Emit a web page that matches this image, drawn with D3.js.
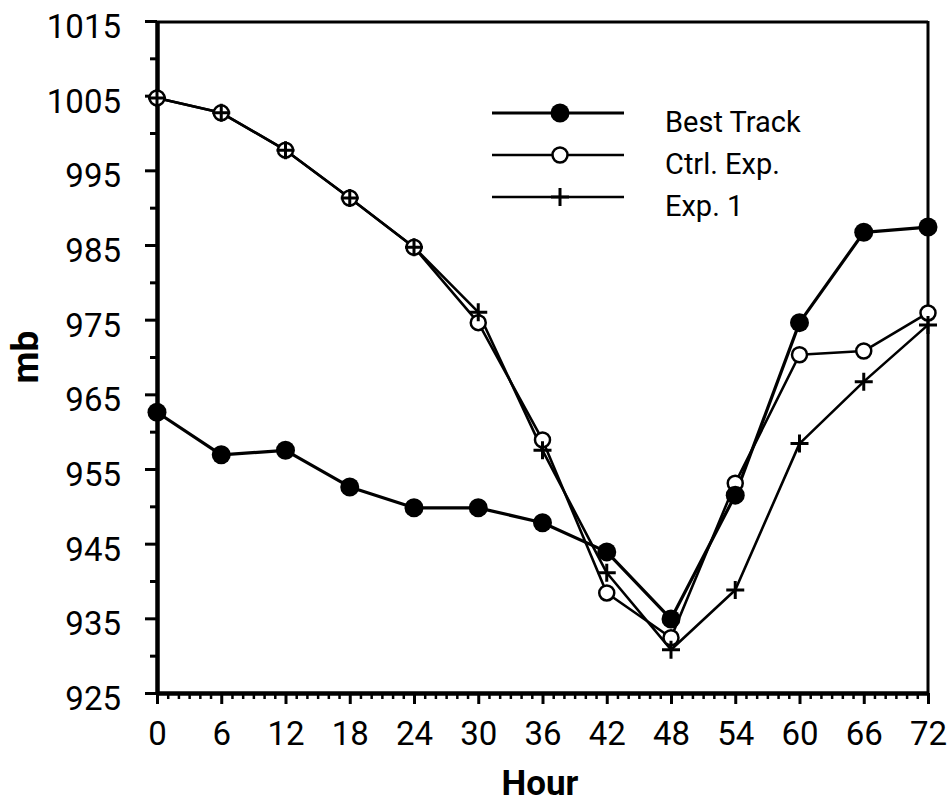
<!DOCTYPE html>
<html>
<head>
<meta charset="utf-8">
<script src="https://cdn.jsdelivr.net/npm/d3@7"></script>
<style>
	body {margin:0; background:#fff;}
	text {font-family: Roboto, "Open Sans", sans-serif; fill:#000;}
</style>
</head>
<body>
<svg id="chart" width="948" height="804"></svg>
<script>
/* Presión central (mb) cada 6 horas */
var hours = [0, 6, 12, 18, 24, 30, 36, 42, 48, 54, 60, 66, 72];
var bestTrack = [962.6, 956.9, 957.5, 952.6, 949.8, 949.8, 947.8, 943.9, 934.9, 951.5, 974.6, 986.7, 987.4];
var ctrlExp = [1004.7, 1002.7, 997.7, 991.3, 984.7, 974.6, 958.9, 938.4, 932.4, 953.1, 970.3, 970.8, 975.9];
var exp1 = [1004.7, 1002.7, 997.7, 991.3, 984.7, 976.0, 957.5, 941.1, 930.8, 938.8, 958.4, 966.7, 974.3];
var yTicks = [925, 935, 945, 955, 965, 975, 985, 995, 1005, 1015];
var legendLabels = ["Best Track", "Ctrl. Exp.", "Exp. 1"];

var svg = d3.select("#chart");
var x = d3.scaleLinear().domain([0, 72]).range([157, 928]);
var y = d3.scaleLinear().domain([925, 1015]).range([693, 21]);

var series = [
	{name: legendLabels[0], values: bestTrack, marker: "filled", width: 3.2},
	{name: legendLabels[1], values: ctrlExp, marker: "open", width: 2.6},
	{name: legendLabels[2], values: exp1, marker: "plus", width: 2.6}
];

// marco superior y derecho
svg.append("line").attr("x1", x(0)).attr("x2", x(72)).attr("y1", y(1015) + 1).attr("y2", y(1015) + 1)
	.attr("stroke", "#000").attr("stroke-width", 3);
svg.append("line").attr("x1", x(72)).attr("x2", x(72)).attr("y1", y(1015)).attr("y2", y(925))
	.attr("stroke", "#000").attr("stroke-width", 3);

// ejes
var minorY = d3.range(930, 1015, 10);
var minorX = d3.range(0, 73).filter(function(h) {return h % 6 != 0;});

svg.append("g").attr("transform", "translate(" + x(0) + ",0)")
	.call(d3.axisLeft(y).tickValues(minorY).tickSize(7).tickSizeOuter(0).tickFormat(""))
	.call(function(g) {g.select(".domain").remove();})
	.selectAll("line").attr("stroke-width", 3);
var yAxis = svg.append("g").attr("transform", "translate(" + x(0) + ",0)")
	.call(d3.axisLeft(y).tickValues(yTicks).tickFormat(d3.format("d")).tickSize(12).tickSizeOuter(0).tickPadding(24));
yAxis.select(".domain").attr("stroke-width", 4.5);
yAxis.selectAll("line").attr("stroke-width", 3);
yAxis.selectAll("text").attr("font-size", 33).attr("dy", "0.5em");

svg.append("g").attr("transform", "translate(0," + y(925) + ")")
	.call(d3.axisBottom(x).tickValues(minorX).tickSize(6).tickSizeOuter(0).tickFormat(""))
	.call(function(g) {g.select(".domain").remove();})
	.selectAll("line").attr("stroke-width", 2.5);
var xAxis = svg.append("g").attr("transform", "translate(0," + y(925) + ")")
	.call(d3.axisBottom(x).tickValues(hours).tickSize(11).tickSizeOuter(0).tickPadding(18));
xAxis.select(".domain").attr("stroke-width", 4.5);
xAxis.selectAll("line").attr("stroke-width", 3);
xAxis.selectAll("text").attr("font-size", 33);

// títulos
svg.append("text").attr("x", 540).attr("y", 795).attr("text-anchor", "middle")
	.attr("font-size", 35).attr("font-weight", "bold").text("Hour");
svg.append("text").attr("transform", "translate(38,357) rotate(-90)").attr("text-anchor", "middle")
	.attr("font-size", 37).attr("font-weight", "bold").text("mb");

// líneas
var line = d3.line().x(function(d, i) {return x(hours[i]);}).y(function(d) {return y(d);});
series.forEach(function(s) {
	svg.append("path").datum(s.values).attr("d", line)
		.attr("fill", "none").attr("stroke", "#000").attr("stroke-width", s.width)
		.attr("stroke-linejoin", "round");
});

function drawMarker(g, type) {
	if (type == "filled") g.append("circle").attr("r", 9.5).attr("fill", "#000");
	else if (type == "open") g.append("circle").attr("r", 7.5).attr("fill", "#fff").attr("stroke", "#000").attr("stroke-width", 2.5);
	else g.append("path").attr("d", "M-9,0H9M0,-9V9").attr("stroke", "#000").attr("stroke-width", 3);
}

// marcadores: círculos abiertos, cruces encima, luego rellenos
[series[1], series[2], series[0]].forEach(function(s) {
	s.values.forEach(function(v, i) {
		var g = svg.append("g").attr("transform", "translate(" + x(hours[i]) + "," + y(v) + ")");
		drawMarker(g, s.marker);
	});
});

// leyenda
var legend = svg.append("g");
series.forEach(function(s, i) {
	var ly = 113 + i * 42;
	legend.append("line").attr("x1", 492).attr("x2", 624).attr("y1", ly).attr("y2", ly)
		.attr("stroke", "#000").attr("stroke-width", s.width);
	drawMarker(legend.append("g").attr("transform", "translate(560," + ly + ")"), s.marker);
	legend.append("text").attr("x", 665).attr("y", ly + 19).attr("font-size", 29).text(s.name);
});
</script>
</body>
</html>
